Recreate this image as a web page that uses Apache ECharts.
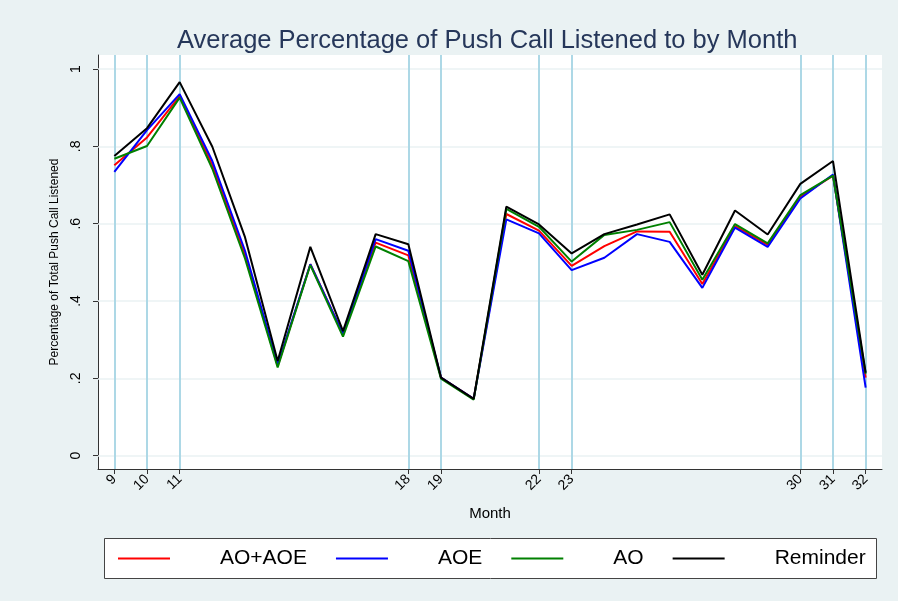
<!DOCTYPE html>
<html lang="en">
<head>
    <meta charset="UTF-8">
    <title>Push Call Listened by Month</title>
    <script src="https://cdn.jsdelivr.net/npm/echarts@6/dist/echarts.min.js"></script>
</head>
<style>
    html, body {
        margin: 0;
        height: 100%;
        background: #eaf2f3;
    }
</style>
<body>
<div id="main" style="width: 898px;height:601px"></div>
<script type="text/javascript">
    var months = [9, 10, 11, 12, 13, 14, 15, 16, 17, 18, 19, 20, 21, 22, 23, 24, 25, 26, 27, 28, 29, 30, 31, 32];
    var aoAoe = [0.751, 0.823, 0.930, 0.752, 0.520, 0.232, 0.495, 0.315, 0.551, 0.518, 0.202, 0.147,
        0.625, 0.582, 0.491, 0.542, 0.580, 0.579, 0.444, 0.594, 0.545, 0.670, 0.724, 0.202];
    var aoe = [0.734, 0.842, 0.935, 0.762, 0.530, 0.235, 0.495, 0.315, 0.560, 0.530, 0.202, 0.147,
        0.611, 0.575, 0.480, 0.512, 0.573, 0.553, 0.434, 0.590, 0.540, 0.665, 0.727, 0.176];
    var ao = [0.768, 0.801, 0.926, 0.742, 0.510, 0.228, 0.493, 0.308, 0.541, 0.503, 0.199, 0.145,
        0.638, 0.592, 0.502, 0.571, 0.584, 0.604, 0.455, 0.599, 0.549, 0.674, 0.724, 0.212];
    var reminder = [0.775, 0.847, 0.966, 0.799, 0.565, 0.245, 0.540, 0.322, 0.573, 0.547, 0.202, 0.147,
        0.644, 0.598, 0.523, 0.573, 0.598, 0.624, 0.468, 0.634, 0.572, 0.703, 0.762, 0.215];
    var xTicks = [9, 10, 11, 18, 19, 22, 23, 30, 31, 32];
    var yTicks = [0, 0.2, 0.4, 0.6, 0.8, 1];

    function pairs(vals) {
        return months.map(function (m, i) { return [m, vals[i]]; });
    }

    // data lines sit on their own layer so the grid/reference lines stay underneath
    function lineSeries(name, vals, color) {
        return {
            name: name,
            type: 'line',
            data: pairs(vals),
            symbol: 'none',
            zlevel: 1,
            lineStyle: {color: color, width: 2},
            itemStyle: {color: color}
        };
    }

    var font = '"Liberation Sans", Arial, sans-serif';
    var myChart = echarts.init(document.getElementById('main'));
    var option = {
        animation: false,
        backgroundColor: '#eaf2f3',
        title: {
            text: 'Average Percentage of Push Call Listened to by Month',
            left: 177,
            top: 28,
            padding: 0,
            textStyle: {fontFamily: font, fontSize: 25.5, fontWeight: 'normal', color: '#26375a'}
        },
        graphic: [{
            type: 'rect',
            left: 104, top: 538,
            shape: {width: 772, height: 40},
            style: {fill: '#fff', stroke: '#444', lineWidth: 1},
            z: 0
        }],
        legend: {
            data: ['AO+AOE', 'AOE', 'AO', 'Reminder'],
            left: 118,
            top: 548,
            padding: 0,
            itemWidth: 52,
            itemHeight: 2,
            itemGap: 29,
            icon: 'rect',
            textStyle: {fontFamily: font, fontSize: 21, color: '#000', padding: [0, 0, 0, 45], lineHeight: 20}
        },
        grid: {
            left: 98, right: 16, top: 55, bottom: 132,
            show: true, backgroundColor: '#fff', borderWidth: 0
        },
        xAxis: {
            type: 'value',
            min: 8.5,
            max: 32.5,
            name: 'Month',
            nameLocation: 'middle',
            nameGap: 37,
            nameTextStyle: {fontFamily: font, fontSize: 15, color: '#000'},
            axisLine: {show: true, onZero: false, lineStyle: {color: '#333', width: 1}},
            axisTick: {show: true, length: 5, customValues: xTicks, lineStyle: {color: '#333'}},
            axisLabel: {
                customValues: xTicks, rotate: 45, margin: 8,
                fontFamily: font, fontSize: 14, color: '#000'
            },
            splitLine: {show: false}
        },
        yAxis: {
            type: 'value',
            min: -0.0344,
            max: 1.0362,
            name: 'Percentage of Total Push Call Listened',
            nameLocation: 'middle',
            nameRotate: 90,
            nameGap: 37,
            nameTextStyle: {fontFamily: font, fontSize: 12, color: '#000'},
            axisLine: {show: true, onZero: false, lineStyle: {color: '#333', width: 1}},
            axisTick: {show: true, length: 5, customValues: yTicks, lineStyle: {color: '#333'}},
            axisLabel: {
                customValues: yTicks, rotate: 90, margin: 15,
                fontFamily: font, fontSize: 14, color: '#000',
                formatter: function (v) {
                    if (v === 0 || v === 1) return String(v);
                    return String(Math.round(v * 10) / 10).replace('0.', '.');
                }
            },
            splitLine: {show: false}
        },
        series: [
            {
                name: 'grid lines',
                type: 'line',
                data: [],
                markLine: {
                    silent: true,
                    symbol: 'none',
                    label: {show: false},
                    data: yTicks.map(function (v) {
                        return {yAxis: v, lineStyle: {color: '#eaf2f3', width: 1.5, type: 'solid'}};
                    }).concat(xTicks.map(function (m) {
                        return {xAxis: m, lineStyle: {color: '#add8e6', width: 2, type: 'solid'}};
                    }))
                }
            },
            lineSeries('AO+AOE', aoAoe, '#ff0000'),
            lineSeries('AOE', aoe, '#0000ff'),
            lineSeries('AO', ao, '#008000'),
            lineSeries('Reminder', reminder, '#000000')
        ]
    };
    myChart.setOption(option);
</script>
</body>
</html>
